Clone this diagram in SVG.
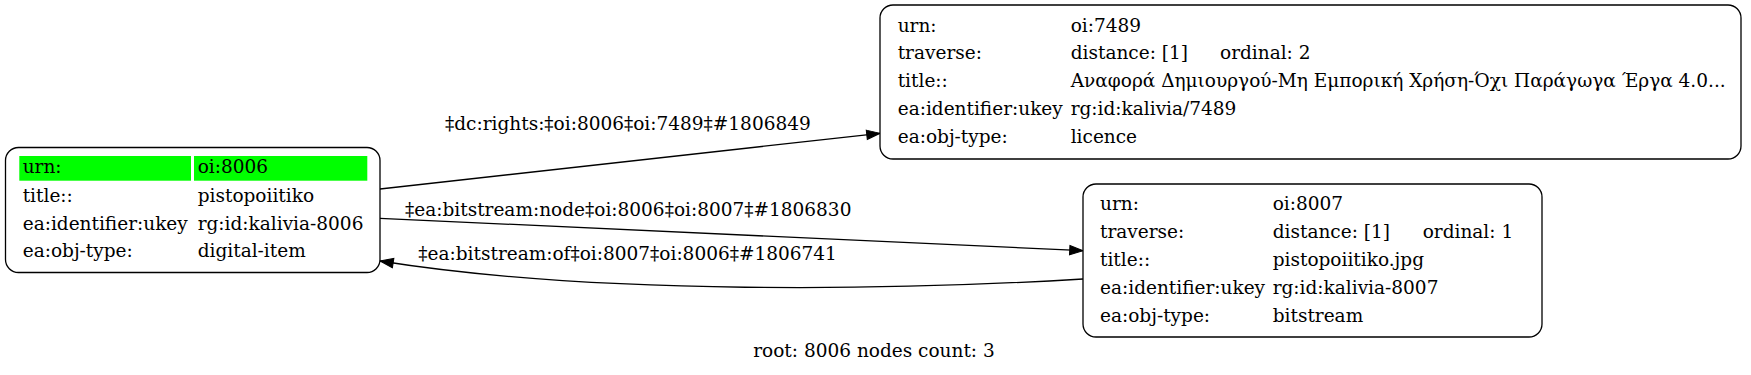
<svg xmlns="http://www.w3.org/2000/svg" width="1751" height="375" viewBox="0 0 1751 375">
<style>
text{font-family:"DejaVu Serif","Liberation Serif",serif;font-size:18.5px;fill:#000}
.box{fill:#fff;stroke:#000;stroke-width:1.3}
.edge{fill:none;stroke:#000;stroke-width:1.3}
.hl{fill:#00ff00}
</style>
<defs>
<marker id="arr" viewBox="0 0 14 10" markerWidth="14" markerHeight="10" refX="13.3" refY="4.67" orient="auto" markerUnits="userSpaceOnUse" overflow="visible">
<path d="M0,0 L13.3,4.67 L0,9.33 z" fill="#000" stroke="#000" stroke-width="1"/>
</marker>
</defs>
<rect width="1751" height="375" fill="#fff"/>
<g id="connectors">
<g id="e1"><path class="edge" d="M380,189 L880,133.3" marker-end="url(#arr)"/><text x="445" y="130">‡dc:rights:‡oi:8006‡oi:7489‡#1806849</text></g>
<g id="e2"><path class="edge" d="M380,218.3 L1083,250.7" marker-end="url(#arr)"/><text x="405" y="215.5">‡ea:bitstream:node‡oi:8006‡oi:8007‡#1806830</text></g>
<g id="e3"><path class="edge" d="M1083,279 C900,290 600,296 380,261" marker-end="url(#arr)"/><text x="418.3" y="259.5">‡ea:bitstream:of‡oi:8007‡oi:8006‡#1806741</text></g>
</g>
<g id="n8006">
<rect class="box" x="5.5" y="147.5" width="374.5" height="125" rx="13"/>
<rect class="hl" x="19.3" y="156" width="171.7" height="24.7"/>
<rect class="hl" x="194" y="156" width="173.3" height="24.7"/>
<text x="22.7" y="173.3">urn:</text><text x="197.7" y="173.3">oi:8006</text>
<text x="22.7" y="201.7">title::</text><text x="197.7" y="201.7">pistopoiitiko</text>
<text x="22.7" y="230">ea:identifier:ukey</text><text x="197.7" y="230">rg:id:kalivia-8006</text>
<text x="22.7" y="257.3">ea:obj-type:</text><text x="197.7" y="257.3">digital-item</text>
</g>
<g id="n7489">
<rect class="box" x="880" y="5" width="861" height="154" rx="13"/>
<text x="897.7" y="31.7">urn:</text><text x="1070.7" y="31.7">oi:7489</text>
<text x="897.7" y="59.3">traverse:</text><text x="1070.7" y="59.3">distance: [1]</text><text x="1220" y="59.3">ordinal: 2</text>
<text x="897.7" y="87.3">title::</text><text x="1070.7" y="87.3">Αναφορά Δημιουργού-Μη Εμπορική Χρήση-Όχι Παράγωγα Έργα 4.0...</text>
<text x="897.7" y="115">ea:identifier:ukey</text><text x="1070.7" y="115">rg:id:kalivia/7489</text>
<text x="897.7" y="142.7">ea:obj-type:</text><text x="1070.7" y="142.7">licence</text>
</g>
<g id="n8007">
<rect class="box" x="1083" y="184" width="459" height="153" rx="13"/>
<text x="1100" y="210">urn:</text><text x="1272.7" y="210">oi:8007</text>
<text x="1100" y="238.3">traverse:</text><text x="1272.7" y="238.3">distance: [1]</text><text x="1422.7" y="238.3">ordinal: 1</text>
<text x="1100" y="266">title::</text><text x="1272.7" y="266">pistopoiitiko.jpg</text>
<text x="1100" y="294">ea:identifier:ukey</text><text x="1272.7" y="294">rg:id:kalivia-8007</text>
<text x="1100" y="321.7">ea:obj-type:</text><text x="1272.7" y="321.7">bitstream</text>
</g>
<g id="graph-label"><text x="874" y="357.3" text-anchor="middle">root: 8006 nodes count: 3</text></g>
</svg>
